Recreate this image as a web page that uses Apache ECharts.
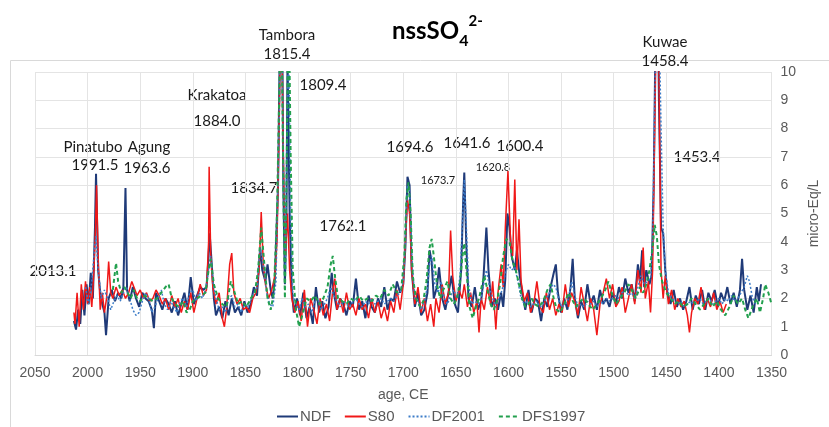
<!DOCTYPE html>
<html>
<head>
<meta charset="utf-8">
<script src="https://cdn.jsdelivr.net/npm/echarts@6/dist/echarts.min.js"></script>
<style>
html,body{margin:0;padding:0;background:#fff}
#main{width:829px;height:427px}
</style>
</head>
<body>
<div id="main"></div>
<script>
// nssSO4 records, [age CE, micro-Eq/L]
var seriesNames = ['NDF', 'S80', 'DF2001', 'DFS1997'];

var ndf = [[2013,1.2],[2011,0.9],[2009,1.6],[2007,1.1],[2005,2.3],[2003,1.4],[2001,2.5],[1999,1.8],[1997,2.9],[1995,2.0],[1993,4.5],[1992,6.4],[1990,3.0],[1988,2.2],[1986,1.8],[1984,1.5],[1982.5,0.7],[1980,2.0],[1977,2.3],[1974,1.9],[1971,2.2],[1968,2.0],[1966,2.4],[1964,5.9],[1962.5,2.3],[1960,1.9],[1957,2.4],[1954,2.0],[1951,1.7],[1948,2.2],[1945,2.0],[1942,1.9],[1939,1.6],[1937,0.95],[1935,2.2],[1932,1.9],[1929,1.6],[1926,2.0],[1923,1.8],[1920,1.5],[1917,1.9],[1914,1.4],[1911,1.8],[1908,2.2],[1905,1.6],[1902,2.75],[1899,1.8],[1896,2.1],[1893,2.4],[1890,2.3],[1887,2.4],[1885,3.5],[1884,4.3],[1882,3.2],[1880,2.0],[1878,1.4],[1875,1.7],[1872,1.3],[1869,1.9],[1866,1.4],[1863,2.0],[1860,1.5],[1857,1.7],[1854,1.4],[1851,1.9],[1848,1.5],[1845,1.8],[1842,2.4],[1839,2.1],[1836,3.8],[1834,3.0],[1831,2.6],[1829,3.2],[1826,2.3],[1824,2.0],[1822,2.7],[1819,6.0],[1817,12],[1815.5,14],[1814,6],[1812.5,2.5],[1811,5],[1810,10.5],[1808,5],[1806,2.3],[1804,1.5],[1801,2.0],[1798,1.4],[1795,2.2],[1792,1.3],[1789,1.7],[1786,1.1],[1783,2.4],[1780,1.5],[1777,1.9],[1774,1.3],[1771,1.7],[1768,2.9],[1766,2.2],[1763,1.6],[1760,2.0],[1757,1.8],[1754,1.4],[1751,1.9],[1748,1.7],[1745,2.7],[1742,1.6],[1739,1.9],[1736,1.3],[1733,2.1],[1730,1.7],[1727,1.5],[1724,2.0],[1721,1.7],[1718,2.4],[1715,1.6],[1712,2.0],[1709,1.9],[1706,2.6],[1703,2.2],[1700,2.5],[1698,3.8],[1696,6.3],[1694,6.0],[1692,3.0],[1689,1.7],[1686,2.2],[1683,1.4],[1680,1.6],[1677,2.2],[1675,3.7],[1673,3.3],[1671,2.0],[1668,2.4],[1666,3.1],[1663,2.0],[1660,1.6],[1657,2.2],[1654,2.8],[1651,1.8],[1648,1.5],[1645,3.0],[1643,5.5],[1642,6.45],[1640,3.8],[1638,2.0],[1635,1.7],[1632,2.4],[1629,1.6],[1626,1.9],[1624,2.6],[1621,4.5],[1619,3.0],[1616,1.7],[1613,2.0],[1610,1.6],[1607,2.2],[1605,1.7],[1603,2.7],[1601,5.0],[1599,4.5],[1597,3.5],[1594,3.0],[1592,3.7],[1590,3.0],[1587,2.2],[1584,1.6],[1581,2.3],[1578,1.5],[1575,2.0],[1572,1.9],[1569,1.2],[1566,2.0],[1563,1.7],[1560,2.4],[1557,2.9],[1555,3.2],[1553,2.2],[1550,1.5],[1547,2.0],[1544,1.6],[1541,2.4],[1539,3.4],[1537,2.0],[1534,1.3],[1531,1.9],[1528,1.6],[1525,2.5],[1522,1.8],[1519,2.1],[1516,1.6],[1513,2.3],[1510,1.8],[1507,2.0],[1504,1.7],[1501,2.2],[1498,1.8],[1495,2.4],[1492,2.0],[1489,2.7],[1486,2.2],[1483,2.5],[1480,1.9],[1477,3.2],[1475,2.6],[1473,3.7],[1471,2.4],[1469,3.0],[1466,2.5],[1464,2.8],[1462,6.0],[1460,12],[1458.4,14],[1457,9],[1455,4.5],[1453,4.3],[1451,3.0],[1449,2.2],[1446,1.8],[1443,2.3],[1440,1.7],[1437,2.0],[1434,1.6],[1431,1.9],[1428,2.4],[1425,1.6],[1422,2.1],[1419,1.8],[1416,2.3],[1413,1.6],[1410,2.2],[1407,1.9],[1404,2.3],[1401,1.7],[1398,2.2],[1395,1.9],[1392,2.4],[1389,1.8],[1386,2.2],[1383,1.7],[1380,2.3],[1378,3.4],[1376,2.3],[1373,1.6],[1370,2.1],[1367,1.5],[1364,2.4],[1362,1.9],[1360,2.5]];

var s80 = [[2013,1.5],[2012,1.1],[2010,2.2],[2008,1.0],[2006,2.5],[2004,1.6],[2002,2.6],[2000,1.8],[1998,2.4],[1996,1.7],[1994,3.0],[1992.5,4.5],[1991.5,6.0],[1990,3.5],[1988,1.6],[1986,2.2],[1984,1.5],[1982,2.0],[1980,3.3],[1978,2.2],[1976,2.0],[1973,2.4],[1970,2.1],[1967,2.3],[1964,2.0],[1961,2.2],[1958,2.6],[1956,2.4],[1953,2.1],[1950,2.3],[1947,2.0],[1944,2.2],[1941,1.9],[1938,2.0],[1935,2.3],[1932,2.1],[1929,1.8],[1926,2.0],[1923,1.6],[1920,2.1],[1917,1.7],[1914,2.0],[1911,1.5],[1908,1.9],[1905,1.6],[1902,2.2],[1899,1.5],[1896,2.0],[1893,2.5],[1890,2.1],[1887,2.3],[1885,4.0],[1884.5,6.65],[1883,3.5],[1881,2.4],[1878,1.8],[1875,2.2],[1872,1.3],[1870,1.0],[1868,1.6],[1865,3.2],[1863,3.6],[1861,2.2],[1858,1.8],[1855,2.0],[1852,1.6],[1849,1.7],[1846,1.5],[1843,2.0],[1840,2.2],[1837,3.0],[1835,5.05],[1833,3.2],[1831,2.5],[1828,2.0],[1825,2.3],[1822,2.8],[1820,4],[1818,8],[1816,13],[1814,7],[1812,3.5],[1810,5],[1808,3.0],[1806,2.0],[1803,1.5],[1800,1.9],[1797,1.2],[1794,2.3],[1791,1.0],[1788,2.0],[1785,1.6],[1782,1.1],[1779,2.0],[1776,1.4],[1773,1.8],[1770,1.2],[1767,2.3],[1765,2.7],[1763,1.6],[1760,2.0],[1757,1.5],[1754,2.2],[1751,1.6],[1748,1.8],[1745,1.4],[1742,2.0],[1739,1.6],[1736,1.8],[1733,1.3],[1730,2.0],[1727,1.5],[1724,1.9],[1721,1.3],[1718,1.7],[1715,1.2],[1712,1.9],[1709,1.5],[1706,2.3],[1703,1.6],[1700,2.5],[1698,4.0],[1696,5.5],[1694,5.0],[1692,3.0],[1689,1.8],[1686,2.4],[1683,1.5],[1680,2.0],[1677,1.2],[1674,1.8],[1671,1.0],[1669,2.0],[1666,1.5],[1663,2.5],[1660,1.8],[1657,2.2],[1655,4.4],[1653,2.8],[1650,1.9],[1647,2.3],[1644,2.0],[1642,2.5],[1639,1.7],[1636,2.2],[1633,1.5],[1630,1.9],[1628,0.8],[1626,2.0],[1623,1.6],[1620,2.4],[1617,1.8],[1615,2.6],[1612,0.9],[1610,2.2],[1607,3.2],[1605,2.4],[1603,4.5],[1600.5,6.5],[1598,4.0],[1596,3.5],[1594,6.2],[1592,3.0],[1590,4.8],[1588,2.6],[1585,1.9],[1582,2.2],[1579,1.5],[1576,1.8],[1573,2.6],[1570,1.7],[1567,1.5],[1564,2.2],[1561,1.6],[1558,2.0],[1555,1.4],[1552,1.8],[1549,1.5],[1546,2.5],[1543,1.7],[1540,2.2],[1537,1.9],[1534,1.4],[1531,2.4],[1528,1.8],[1525,1.2],[1522,2.0],[1519,1.6],[1516,0.7],[1513,1.8],[1510,2.2],[1507,2.7],[1504,2.0],[1501,2.5],[1498,1.7],[1495,1.9],[1492,2.4],[1489,1.5],[1486,2.0],[1483,2.5],[1480,1.8],[1477,3.0],[1474,2.2],[1472,3.8],[1470,2.0],[1467,2.6],[1465,1.5],[1463,3.0],[1461,8],[1459,13],[1457,10],[1455,3.0],[1453,2.0],[1451,2.8],[1448,1.8],[1445,2.3],[1442,1.6],[1439,2.0],[1436,1.7],[1433,1.9],[1430,1.4],[1428,0.8],[1426,1.5],[1423,2.0],[1420,1.8],[1417,2.4],[1414,1.6],[1411,2.0],[1408,1.7],[1405,2.2],[1402,1.6],[1399,1.9],[1396,1.5],[1393,1.8]];

var df2001 = [[2002,2.4],[1999,1.8],[1996,2.6],[1994,3.5],[1992,4.2],[1990,3.0],[1987,2.0],[1984,2.3],[1981,2.0],[1978,1.6],[1975,1.9],[1972,2.1],[1969,1.9],[1966,2.2],[1963,2.4],[1960,2.0],[1957,1.6],[1954,1.4],[1951,1.5],[1948,1.9],[1945,2.2],[1942,2.0],[1939,1.5],[1936,1.7],[1933,2.0],[1930,2.3],[1927,1.8],[1924,1.6],[1921,1.9],[1918,1.7],[1915,1.5],[1912,1.9],[1909,2.0],[1906,1.7],[1903,2.2],[1900,2.3],[1897,1.9],[1894,2.2],[1891,2.0],[1888,2.3],[1885,3.0],[1883,3.5],[1881,2.6],[1878,2.0],[1875,1.6],[1872,1.7],[1869,1.5],[1866,2.0],[1863,2.1],[1860,1.7],[1857,1.8],[1854,1.5],[1851,1.8],[1848,1.7],[1845,1.9],[1842,2.2],[1839,2.4],[1836,3.8],[1833,3.2],[1830,2.2],[1827,1.8],[1824,1.7],[1821,2.6],[1818,8],[1816,13],[1814,7],[1812,3],[1810,9],[1809,11],[1807,5],[1805,2.2],[1802,1.8],[1799,1.6],[1796,2.0],[1793,1.7],[1790,1.8],[1787,1.5],[1784,1.9],[1781,2.0],[1778,1.6],[1775,1.8],[1772,2.0],[1769,2.4],[1766,2.1],[1763,1.9],[1760,1.7],[1757,1.9],[1754,1.8],[1751,1.7],[1748,1.9],[1745,2.0],[1742,1.8],[1739,1.7],[1736,1.9],[1733,1.8],[1730,2.0],[1727,1.8],[1724,1.9],[1721,2.0],[1718,1.8],[1715,1.9],[1712,2.0],[1709,1.9],[1706,2.1],[1703,2.2],[1700,2.6],[1698,4.0],[1696,6.0],[1694,5.8],[1692,3.5],[1689,2.0],[1686,1.9],[1683,1.6],[1680,1.9],[1677,2.4],[1675,3.2],[1673,3.5],[1670,2.5],[1667,2.2],[1664,2.6],[1661,2.0],[1658,1.8],[1655,2.1],[1652,2.3],[1649,2.0],[1646,2.8],[1644,4.5],[1642,6.2],[1640,4.5],[1638,2.5],[1635,1.8],[1632,1.9],[1629,1.8],[1626,2.0],[1623,2.6],[1621,3.0],[1618,2.4],[1615,2.0],[1612,1.7],[1609,2.0],[1606,2.3],[1603,2.9],[1600,3.2],[1597,3.0],[1594,3.1],[1591,2.6],[1588,2.0],[1585,1.8],[1582,1.9],[1579,1.7],[1576,1.8],[1573,1.9],[1570,1.7],[1567,1.8],[1564,2.0],[1561,2.2],[1558,2.5],[1555,2.4],[1552,1.9],[1549,1.7],[1546,1.8],[1543,2.0],[1540,2.6],[1537,2.1],[1534,1.7],[1531,1.8],[1528,1.7],[1525,1.9],[1522,1.8],[1519,1.9],[1516,1.7],[1513,1.9],[1510,1.8],[1507,2.0],[1504,1.9],[1501,2.0],[1498,2.1],[1495,2.0],[1492,2.2],[1489,2.3],[1486,2.1],[1483,2.2],[1480,2.0],[1477,2.4],[1474,2.8],[1471,2.5],[1468,2.6],[1465,2.7],[1463,4],[1461,9],[1459,13],[1457,12],[1455,8],[1453,4.5],[1451,3.0],[1448,2.2],[1445,2.0],[1442,1.9],[1439,1.8],[1436,1.9],[1433,1.7],[1430,1.8],[1427,1.9],[1424,1.8],[1421,1.9],[1418,2.0],[1415,1.8],[1412,1.9],[1409,2.0],[1406,1.8],[1403,1.9],[1400,2.0],[1397,1.8],[1394,2.0],[1391,1.9],[1388,2.1],[1385,1.9],[1382,2.0],[1379,2.2],[1376,2.4],[1373,2.8],[1371,2.6],[1368,2.0],[1365,1.8]];

var dfs1997 = [[1976,2.3],[1973,3.25],[1971,2.6],[1968,2.2],[1965,2.4],[1962,2.2],[1959,2.0],[1956,2.3],[1953,2.0],[1950,1.9],[1946,2.1],[1942,2.0],[1938,1.9],[1934,2.0],[1930,2.2],[1926,2.4],[1923,2.5],[1920,2.0],[1917,1.8],[1913,1.7],[1909,1.9],[1906,1.5],[1903,1.6],[1900,1.9],[1896,2.0],[1892,2.1],[1888,2.2],[1885,3.0],[1883,3.4],[1880,2.5],[1876,2.0],[1872,1.8],[1868,1.7],[1864,2.6],[1861,2.3],[1857,1.8],[1853,1.9],[1849,1.7],[1845,2.0],[1841,2.2],[1838,3.0],[1835,4.5],[1832,3.2],[1829,2.0],[1826,1.6],[1823,2.2],[1820,5],[1818,9],[1816,13],[1814,6],[1812.5,2.0],[1811,6],[1809,13],[1807,7],[1805,3],[1802,1.6],[1799,1.0],[1796,1.4],[1792,2.0],[1788,1.9],[1784,2.1],[1780,1.8],[1776,2.0],[1772,2.4],[1769,3.2],[1767,3.5],[1765,2.8],[1762,2.0],[1758,1.9],[1754,1.8],[1750,2.0],[1746,1.9],[1742,2.1],[1738,1.9],[1734,2.0],[1730,1.9],[1726,2.1],[1722,2.0],[1718,2.3],[1714,2.1],[1710,2.5],[1706,2.2],[1702,2.3],[1699,3.5],[1697,5.5],[1695,6.1],[1693,5.0],[1691,2.8],[1688,2.0],[1684,1.7],[1681,1.9],[1678,2.6],[1675,3.8],[1673,4.1],[1671,3.5],[1668,2.5],[1665,2.0],[1662,2.3],[1658,2.6],[1655,2.0],[1652,1.8],[1649,2.0],[1646,2.6],[1644,3.4],[1642,3.95],[1640,3.0],[1637,1.7],[1634,1.3],[1631,1.7],[1628,2.0],[1625,2.5],[1623,2.8],[1620,2.3],[1617,1.8],[1614,1.6],[1611,1.9],[1608,2.5],[1605,3.5],[1602,4.1],[1599,4.0],[1596,3.3],[1593,3.0],[1590,2.5],[1587,2.0],[1584,1.7],[1581,1.8],[1578,2.0],[1575,1.8],[1571,1.7],[1567,1.9],[1563,2.3],[1560,2.5],[1557,2.0],[1554,1.6],[1551,1.5],[1547,1.8],[1543,2.2],[1540,2.0],[1536,1.7],[1532,1.9],[1528,2.0],[1524,1.8],[1520,1.6],[1516,1.8],[1512,2.0],[1508,2.3],[1505,2.6],[1502,2.2],[1498,1.8],[1494,2.0],[1490,2.2],[1486,2.5],[1483,2.3],[1479,2.0],[1475,2.4],[1472,2.2],[1469,2.5],[1466,3.0],[1463,3.8],[1461,4.6],[1459,4.2],[1457,3.2],[1454,2.6],[1450,2.2],[1446,2.0],[1442,1.8],[1438,1.9],[1434,1.7],[1430,1.8],[1426,2.0],[1422,1.8],[1418,1.6],[1414,1.8],[1410,2.0],[1406,1.7],[1402,1.9],[1398,1.6],[1394,1.4],[1390,1.7],[1386,2.1],[1382,1.8],[1378,2.0],[1375,1.6],[1372,1.3],[1368,1.7],[1364,2.0],[1361,1.5],[1358,2.0],[1356,2.5],[1353,2.2],[1350,1.8]];

var myChart = echarts.init(document.getElementById('main'));

var labelFont = 'Lato, "Open Sans", sans-serif';
var axisFont = '"Liberation Sans", Arial, sans-serif';

// annotation texts [text, x, y, size]
var notes = [
    ['Tambora', 287, 35, 15], ['1815.4', 287, 54, 15], ['1809.4', 323, 85, 15],
    ['Krakatoa', 217, 95, 15], ['1884.0', 217, 121, 15],
    ['Pinatubo', 93, 147, 15], ['1991.5', 95, 165, 15],
    ['Agung', 149, 147, 15], ['1963.6', 147, 168, 15],
    ['1834.7', 254, 188, 15], ['1762.1', 343, 226, 15], ['2013.1', 53, 271, 15],
    ['1694.6', 410, 147, 15], ['1641.6', 467, 143, 15], ['1600.4', 520, 146, 15],
    ['1620.8', 493, 167, 11], ['1673.7', 438, 180, 11],
    ['Kuwae', 665, 42, 15], ['1458.4', 665, 61, 15], ['1453.4', 697, 157, 15]
];

var graphics = [{
    type: 'rect', silent: true, z: -1,
    shape: { x: 10.5, y: 60.5, width: 840, height: 420 },
    style: { fill: 'none', stroke: '#D9D9D9', lineWidth: 1 }
}, {
    type: 'text', left: 392, top: 14,
    style: {
        text: '{a|nssSO}{b|4}{c|2-}',
        rich: {
            a: { fontSize: 24, fontWeight: 'bold', fontFamily: labelFont, fill: '#000', lineHeight: 35 },
            b: { fontSize: 16, fontWeight: 'bold', fontFamily: labelFont, fill: '#000', verticalAlign: 'bottom', lineHeight: 35 },
            c: { fontSize: 15, fontWeight: 'bold', fontFamily: labelFont, fill: '#000', verticalAlign: 'top', lineHeight: 35 }
        }
    }
}];
notes.forEach(function (n) {
    graphics.push({
        type: 'text', x: n[1], y: n[2],
        style: {
            text: n[0], fill: '#1a1a1a', font: n[3] + 'px ' + labelFont,
            textAlign: 'center', textVerticalAlign: 'middle'
        }
    });
});

function mkSeries(name, data, color, width, type) {
    return {
        name: name, type: 'line', data: data,
        symbol: 'none', smooth: false, clip: true,
        lineStyle: { color: color, width: width, type: type },
        itemStyle: { color: color }
    };
}

function plainNum(v) { return String(v); }

var option = {
    animation: false,
    grid: { left: 35, right: 47, top: 72, bottom: 72 },
    legend: {
        data: seriesNames, left: 271, top: 404,
        itemWidth: 21, itemHeight: 14, itemGap: 13,
        itemStyle: { opacity: 0 },
        textStyle: { color: '#595959', fontSize: 15, fontFamily: axisFont, padding: [0, 0, 0, -3] }
    },
    xAxis: {
        type: 'value', inverse: true, min: 1350, max: 2050, interval: 50,
        name: 'age, CE', nameLocation: 'middle', nameGap: 33,
        nameTextStyle: { color: '#595959', fontSize: 14, fontFamily: axisFont },
        axisLine: { show: true, lineStyle: { color: '#D9D9D9' } },
        axisTick: { show: false },
        axisLabel: { color: '#595959', fontSize: 14, fontFamily: axisFont, margin: 11, formatter: plainNum },
        splitLine: { show: true, lineStyle: { color: '#E4E4E4' } }
    },
    yAxis: {
        type: 'value', position: 'right', min: 0, max: 10, interval: 1,
        name: 'micro-Eq/L', nameLocation: 'middle', nameGap: 27, nameRotate: 90,
        nameTextStyle: { color: '#595959', fontSize: 14, fontFamily: axisFont },
        axisLine: { show: false },
        axisTick: { show: false },
        axisLabel: { color: '#595959', fontSize: 14, fontFamily: axisFont, margin: 9, formatter: plainNum },
        splitLine: { show: true, lineStyle: { color: '#E4E4E4' } }
    },
    series: [
        mkSeries('NDF', ndf, '#1F3A78', 2, 'solid'),
        mkSeries('S80', s80, '#F01818', 1.5, 'solid'),
        mkSeries('DF2001', df2001, '#3C7CC8', 1.5, [2, 2]),
        mkSeries('DFS1997', dfs1997, '#22A04E', 2, [4, 3])
    ],
    graphic: graphics
};

myChart.setOption(option);
</script>
</body>
</html>
